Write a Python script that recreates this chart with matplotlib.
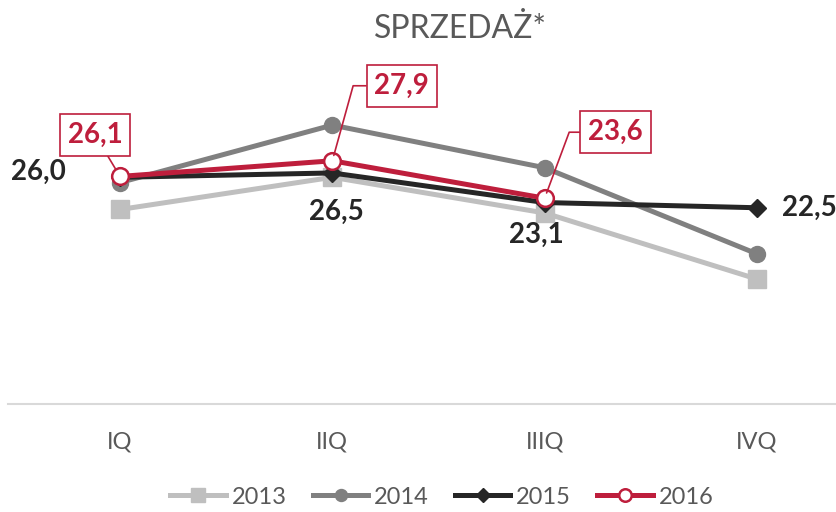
import matplotlib.pyplot as plt

plt.rcParams['font.family'] = ['Lato', 'DejaVu Sans']

# data
quarters = ['IQ', 'IIQ', 'IIIQ', 'IVQ']
s2013 = [22.3, 26.0, 21.9, 14.3]
s2014 = [25.4, 32.0, 27.1, 17.2]
s2015 = [26.0, 26.5, 23.1, 22.5]
s2016 = [26.1, 27.9, 23.6]
labels_2015 = ['26,0', '26,5', '23,1', '22,5']
labels_2016 = ['26,1', '27,9', '23,6']

gray_txt = '#595959'
red = '#BE1E3C'

fig = plt.figure(figsize=(8.37, 5.12), dpi=100)
# axes placed in pixel terms: left edge 8px, right edge 837px, baseline at 403.5px
ax = fig.add_axes([8 / 837, (512 - 403.5) / 512, 829 / 837, 35 * 8.7 / 512])

x = list(range(len(quarters)))
ax.plot(x, s2013, color='#BFBFBF', lw=3.6, marker='s', ms=12.5, label='2013')
ax.plot(x, s2014, color='#808080', lw=3.6, marker='o', ms=11.5, label='2014')
ax.plot(x, s2015, color='#262626', lw=3.6, marker='D', ms=9, label='2015')
ax.plot(x[:3], s2016, color=red, lw=3.6, marker='o', ms=12,
        mfc='white', mec=red, mew=1.8, label='2016')

ax.set_xlim(-(120 - 8) / 212.3, 3 + (837 - 757) / 212.3)
ax.set_ylim(0, 35)
ax.set_xticks(x)
ax.set_xticklabels(quarters, fontsize=17, color=gray_txt)
ax.tick_params(axis='x', length=0, pad=20)
ax.set_yticks([])
for side in ['top', 'right', 'left']:
    ax.spines[side].set_visible(False)
ax.spines['bottom'].set_color('#D9D9D9')
ax.spines['bottom'].set_linewidth(1.5)

# 2015 labels (black)
lab_fmt = dict(textcoords='offset points', fontsize=20, fontweight='bold',
               color='#262626', va='center')
ax.annotate(labels_2015[0], (0, s2015[0]), xytext=(-39, 4), ha='right', **lab_fmt)
ax.annotate(labels_2015[1], (1, s2015[1]), xytext=(3, -28), ha='center', **lab_fmt)
ax.annotate(labels_2015[2], (2, s2015[2]), xytext=(-6, -23), ha='center', **lab_fmt)
ax.annotate(labels_2015[3], (3, s2015[3]), xytext=(18, 0), ha='left', **lab_fmt)

# 2016 labels in boxes with leader lines
box = dict(boxstyle='square,pad=0.28', fc='white', ec=red, lw=1.2)
red_fmt = dict(textcoords='offset points', fontsize=20, fontweight='bold',
               color=red, ha='center', va='center', bbox=box)
ax.annotate(labels_2016[0], (0, s2016[0]), xytext=(-18, 30),
            arrowprops=dict(arrowstyle='-', color=red, lw=1.2, shrinkA=0, shrinkB=6),
            **red_fmt)
ax.annotate(labels_2016[1], (1, s2016[1]), xytext=(50, 54),
            arrowprops=dict(arrowstyle='-', color=red, lw=1.2, shrinkA=0, shrinkB=4,
                            relpos=(0, 0.5),
                            connectionstyle='angle,angleA=180,angleB=74.5,rad=0'),
            **red_fmt)
ax.annotate(labels_2016[2], (2, s2016[2]), xytext=(51, 47.5),
            arrowprops=dict(arrowstyle='-', color=red, lw=1.2, shrinkA=0, shrinkB=4,
                            relpos=(0, 0.5),
                            connectionstyle='angle,angleA=180,angleB=69.6,rad=0'),
            **red_fmt)

fig.text(0.55, 0.944, 'SPRZEDAŻ*', ha='center', va='center', fontsize=23, color=gray_txt)

handles, names = ax.get_legend_handles_labels()
fig.legend(handles, names, loc='center', bbox_to_anchor=(0.528, 0.029), ncol=4,
           frameon=False, fontsize=17, labelcolor=gray_txt, handlelength=2.35,
           handletextpad=0.25, columnspacing=1.1, markerscale=0.75)

fig.savefig('out.png', dpi=100)
